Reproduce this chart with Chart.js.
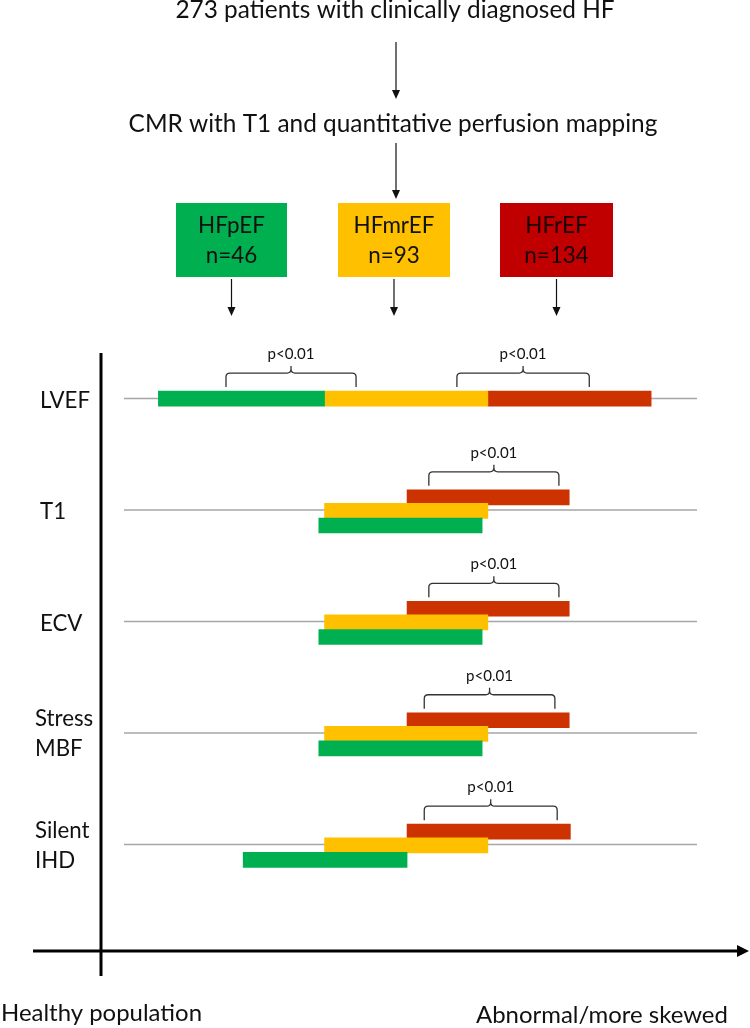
<!DOCTYPE html>
<html>
<head>
<meta charset="utf-8">
<title>HF phenotypes by CMR</title>
<script src="https://cdn.jsdelivr.net/npm/chart.js@4.4.1/dist/chart.umd.min.js"></script>
<style>
  html, body { margin: 0; padding: 0; background: #fff; }
  #wrap { width: 750px; height: 1028px; position: relative; }
</style>
</head>
<body>
<div id="wrap"><canvas id="chart"></canvas></div>
<script>
// ---- data ----
const categories = ['LVEF', 'T1', 'ECV', 'Stress MBF', 'Silent IHD'];
const groups = ['HFpEF', 'HFmrEF', 'HFrEF'];
const groupSizes = [46, 93, 134];
// ranges along "healthy -> abnormal" axis (0..100)
const hfpefRanges = [[6, 35], [34, 62.5], [34, 62.5], [34, 62.5], [20.8, 49.4]];
const hfmrefRanges = [[35, 63.5], [35, 63.5], [35, 63.5], [35, 63.5], [35, 63.5]];
const hfrefRanges = [[63.5, 92], [49.4, 77.7], [49.4, 77.7], [49.4, 77.7], [49.4, 77.9]];
// significance brackets
const pRows = [0, 0, 1, 2, 3, 4];
const pFrom = [17.8, 58.1, 53.2, 53.2, 52.4, 52.4];
const pTo = [40.5, 81.2, 75.9, 75.9, 75.2, 75.6];
const pText = 'p<0.01';
const flowSteps = ['273 patients with clinically diagnosed HF', 'CMR with T1 and quantitative perfusion mapping'];
const axisLabels = ['Healthy population', 'Abnormal/more skewed'];

const barColours = ['#00B050', '#FFC000', '#CC3300'];
const boxColours = ['#00B050', '#FFC000', '#C00000'];
const allRanges = [hfpefRanges, hfmrefRanges, hfrefRanges];
// vertical lane of each group inside a row (row units); LVEF bars share one lane
const laneOffset = [0.139, 0.008, -0.114];
const barThickness = 15;
const FONT = 'Lato, "Open Sans", sans-serif';

function fitSize(ctx, text, width) {
  ctx.font = '100px ' + FONT;
  return 100 * width / ctx.measureText(text).width;
}

function arrowDown(ctx, x, y1, y2) {
  ctx.beginPath();
  ctx.moveTo(x, y1);
  ctx.lineTo(x, y2 - 8);
  ctx.stroke();
  ctx.beginPath();
  ctx.moveTo(x - 4, y2 - 9);
  ctx.lineTo(x + 4, y2 - 9);
  ctx.lineTo(x, y2);
  ctx.closePath();
  ctx.fill();
}

function brace(ctx, x1, x2, yb, yh, yt) {
  const r = 4, xm = (x1 + x2) / 2;
  ctx.beginPath();
  ctx.moveTo(x1, yb);
  ctx.lineTo(x1, yh + r);
  ctx.quadraticCurveTo(x1, yh, x1 + r, yh);
  ctx.lineTo(xm - r, yh);
  ctx.quadraticCurveTo(xm, yh, xm, yh - r);
  ctx.lineTo(xm, yt);
  ctx.moveTo(xm, yh - r);
  ctx.quadraticCurveTo(xm, yh, xm + r, yh);
  ctx.lineTo(x2 - r, yh);
  ctx.quadraticCurveTo(x2, yh, x2, yh + r);
  ctx.lineTo(x2, yb);
  ctx.stroke();
}

const rowLines = {
  id: 'rowLines',
  beforeDatasetsDraw(chart) {
    const { ctx, scales: { x, y } } = chart;
    ctx.save();
    ctx.strokeStyle = '#A6A6A6';
    ctx.lineWidth = 1.5;
    categories.forEach((c, i) => {
      const py = y.getPixelForValue(i);
      ctx.beginPath();
      ctx.moveTo(x.getPixelForValue(0), py);
      ctx.lineTo(x.getPixelForValue(100), py);
      ctx.stroke();
    });
    ctx.restore();
  }
};

const decorations = {
  id: 'decorations',
  afterDraw(chart) {
    const { ctx, scales: { x, y } } = chart;
    ctx.save();
    ctx.fillStyle = '#111';
    ctx.strokeStyle = '#111';

    // flow chart on top
    let size = fitSize(ctx, flowSteps[1], 529);
    ctx.font = size + 'px ' + FONT;
    ctx.textAlign = 'center';
    ctx.textBaseline = 'alphabetic';
    ctx.fillText(flowSteps[0], 395, 18);
    ctx.fillText(flowSteps[1], 393, 132);
    ctx.lineWidth = 1.2;
    arrowDown(ctx, 396, 42, 99);
    arrowDown(ctx, 396, 143, 199);

    const boxes = [[176, 287], [338, 450], [500, 613]];
    const boxSize = fitSize(ctx, 'HFmrEF', 81);
    groups.forEach((g, k) => {
      const [bx1, bx2] = boxes[k];
      const cx = (bx1 + bx2) / 2;
      ctx.fillStyle = boxColours[k];
      ctx.fillRect(bx1, 203, bx2 - bx1, 74);
      ctx.fillStyle = k === 2 ? '#1a0000' : '#111';
      ctx.font = boxSize + 'px ' + FONT;
      ctx.fillText(g, cx, 233);
      ctx.fillText('n=' + groupSizes[k], cx, 263);
      ctx.fillStyle = '#111';
      arrowDown(ctx, cx, 279, 316);
    });

    // axes
    ctx.lineWidth = 3;
    ctx.strokeStyle = '#000';
    ctx.fillStyle = '#000';
    ctx.beginPath();
    ctx.moveTo(101, 353);
    ctx.lineTo(101, 976);
    ctx.moveTo(33, 951);
    ctx.lineTo(740, 951);
    ctx.stroke();
    ctx.beginPath();
    ctx.moveTo(737, 945);
    ctx.lineTo(749, 951);
    ctx.lineTo(737, 957);
    ctx.closePath();
    ctx.fill();

    // row labels
    ctx.fillStyle = '#111';
    ctx.font = fitSize(ctx, 'LVEF', 50) + 'px ' + FONT;
    ctx.textAlign = 'left';
    ctx.textBaseline = 'middle';
    categories.forEach((c, i) => {
      const py = y.getPixelForValue(i);
      const words = c.split(' ');
      if (words.length === 1) {
        ctx.fillText(c, 40, py + 2);
      } else {
        ctx.fillText(words[0], 35, py - 14);
        ctx.fillText(words[1], 35, py + 16);
      }
    });

    // bottom labels
    ctx.font = fitSize(ctx, axisLabels[1], 252) + 'px ' + FONT;
    ctx.textBaseline = 'alphabetic';
    ctx.fillText(axisLabels[0], 1, 1021);
    ctx.fillText(axisLabels[1], 476, 1023);

    // significance brackets
    ctx.strokeStyle = '#333';
    ctx.lineWidth = 1.3;
    ctx.font = fitSize(ctx, pText, 47) + 'px ' + FONT;
    ctx.textAlign = 'center';
    ctx.textBaseline = 'middle';
    pRows.forEach((row, j) => {
      let top = Infinity;
      chart.data.datasets.forEach((ds, k) => {
        const bar = chart.getDatasetMeta(k).data[row];
        top = Math.min(top, bar.y - barThickness / 2);
      });
      const x1 = x.getPixelForValue(pFrom[j]);
      const x2 = x.getPixelForValue(pTo[j]);
      const yb = top - 4, yh = yb - 14, yt = yb - 21;
      brace(ctx, x1, x2, yb, yh, yt);
      ctx.fillText(pText, (x1 + x2) / 2, yt - 12);
    });
    ctx.restore();
  }
};

const datasets = groups.map((g, k) => ({
  label: g,
  data: allRanges[k].map((r, i) => ({ x: r, y: i + (i === 0 ? 0 : laneOffset[k]) })),
  backgroundColor: barColours[k],
  borderWidth: 0,
  barThickness: barThickness,
  grouped: false
}));

new Chart(document.getElementById('chart'), {
  type: 'bar',
  data: { datasets },
  options: {
    indexAxis: 'y',
    responsive: true,
    maintainAspectRatio: false,
    animation: false,
    layout: { padding: { left: 124, right: 53, top: 315, bottom: 100 } },
    scales: {
      x: { type: 'linear', min: 0, max: 100, display: false },
      y: { type: 'linear', min: -0.5, max: 4.5, reverse: true, display: false }
    },
    plugins: {
      legend: { display: false },
      tooltip: { enabled: false }
    }
  },
  plugins: [rowLines, decorations]
});
</script>
</body>
</html>
